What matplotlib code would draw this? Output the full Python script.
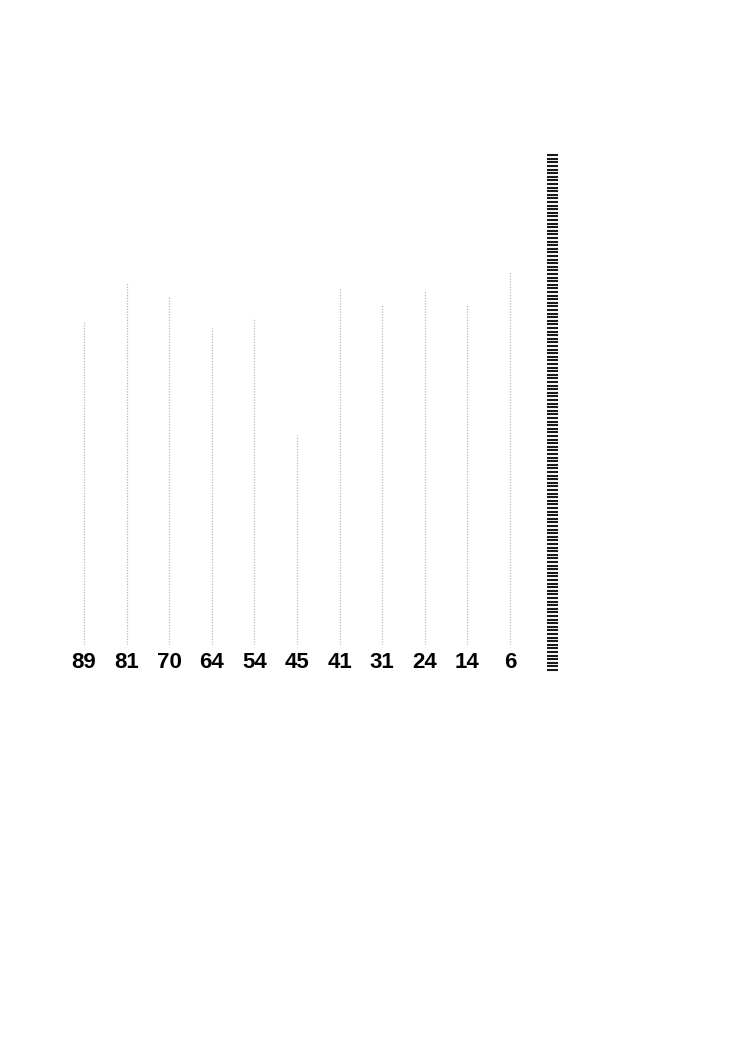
import matplotlib
matplotlib.use('Agg')
import matplotlib.pyplot as plt
import numpy as np

# Values (height of each dotted line above the baseline)
labels = ['89', '81', '70', '64', '54', '45', '41', '31', '24', '14', '6']
heights = [323, 362, 349, 317, 327, 210, 357, 341, 355, 341, 373]

# striped scale on the right
scale_top = 490
scale_bottom = -25
scale_step = 3.6

fig = plt.figure(figsize=(7.48, 10.58), dpi=100)
fig.patch.set_facecolor('white')

# axes: x positions 0..10 (one per label), y in baseline units
ax = fig.add_axes([62.7 / 748, 413 / 1058, 500 / 748, 500 / 1058])
ax.set_xlim(-0.5, 11.24)
ax.set_ylim(0, 500)

x = np.arange(len(labels))
ax.vlines(x, 0, heights, colors='#b8b8b8', linestyles=(0, (1, 1.2)), linewidth=0.9)

# Stripes
ys = np.arange(scale_bottom, scale_top, scale_step)
ax.hlines(ys, 11 - 0.12, 11 + 0.12, colors='#1a1a1a', linewidth=1.5, clip_on=False)

ax.set_xticks(x)
ax.set_xticklabels(labels, fontsize=16, fontweight='bold', family='Liberation Sans')
ax.tick_params(axis='x', length=0, pad=5)
ax.set_yticks([])
for s in ax.spines.values():
    s.set_visible(False)

fig.savefig('out.png', dpi=100, facecolor='white')
